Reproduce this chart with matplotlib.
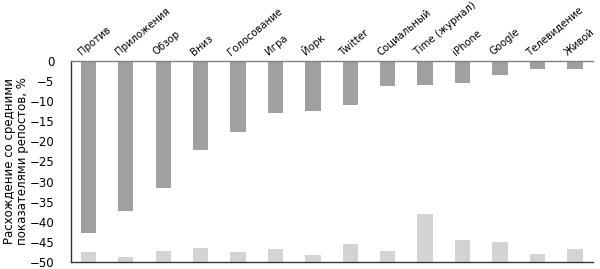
import numpy as np
import matplotlib
matplotlib.use("Agg")
import matplotlib.pyplot as plt
import matplotlib.transforms as mtransforms

plt.rcParams['font.family'] = ['Liberation Sans Narrow', 'DejaVu Sans']

categories = ['Против', 'Приложения', 'Обзор', 'Вниз', 'Голосование', 'Игра', 'Йорк',
              'Twitter', 'Социальный', 'Time (журнал)', 'iPhone', 'Google', 'Телевидение', 'Живой']
# dark bars hang down from 0
diff_top = [-42.9, -37.3, -31.7, -22.2, -17.8, -12.9, -12.5,
            -11.1, -6.3, -5.9, -5.5, -3.5, -2.0, -2.0]
# light bars rise from -50
diff_bottom = [-47.6, -48.8, -47.3, -46.6, -47.5, -46.8, -48.3,
               -45.5, -47.3, -38.1, -44.5, -45.0, -48.0, -46.8]
yticks = [0, -5, -10, -15, -20, -25, -30, -35, -40, -45, -50]

fig = plt.figure(figsize=(6, 2.69), dpi=100)
ax = fig.add_axes([0.118, 0.026, 0.870, 0.748])

x = np.arange(len(categories))
base = -50
ax.bar(x, diff_top, width=0.41, color='#a0a09e', zorder=2)
ax.bar(x, np.array(diff_bottom) - base, bottom=base, width=0.41, color='#d3d3d3', zorder=2)

ax.set_xlim(-0.47, len(categories) - 0.52)
ax.set_ylim(-50, 0)
ax.set_yticks(yticks)
ax.set_yticklabels(['0' if t == 0 else '\u2212%d' % -t for t in yticks], fontsize=8.5)
ax.tick_params(axis='y', length=0, pad=12)
ax.set_xticks([])

ax.spines['right'].set_visible(False)
ax.spines['top'].set_color('#808080')
ax.spines['left'].set_color('#333333')
ax.spines['bottom'].set_color('#333333')
for s in ax.spines.values():
    s.set_linewidth(1.0)

trans = mtransforms.blended_transform_factory(ax.transData, ax.transAxes)
off = mtransforms.offset_copy(trans, fig=fig, x=-7, y=5, units='dots')
for i, name in enumerate(categories):
    ax.text(x[i], 1.0, name, transform=off, rotation=40, ha='left', va='baseline',
            rotation_mode='anchor', fontsize=7.3)

ax.set_ylabel('Расхождение со средними\nпоказателями репостов, %', fontsize=8.5,
              linespacing=1.0)
ax.yaxis.set_label_coords(-0.080, 0.5)

fig.savefig('out.png', dpi=100)
